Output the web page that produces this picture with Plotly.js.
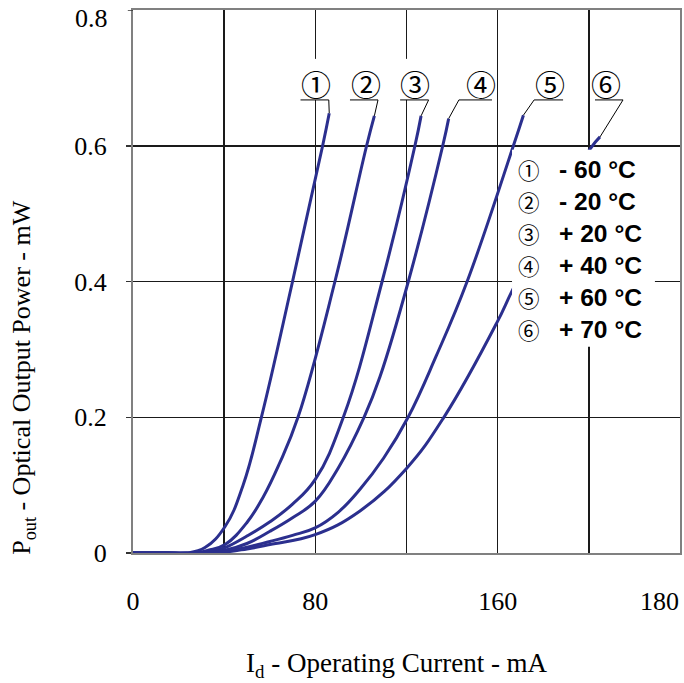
<!DOCTYPE html>
<html>
<head>
<meta charset="utf-8">
<script src="https://cdn.plot.ly/plotly-3.0.1.min.js"></script>
<style>html,body{margin:0;padding:0;background:#fff;}#chart{width:684px;height:683px;}</style>
</head>
<body>
<div id="chart"></div>
<script>
// ---- data ----
const seriesNames = ["-60 °C", "-20 °C", "+20 °C", "+40 °C", "+60 °C", "+70 °C"];
const legendMarks = ["①", "②", "③", "④", "⑤", "⑥"];
const legendTexts = ["- 60 °C", "- 20 °C", "+ 20 °C", "+ 40 °C", "+ 60 °C", "+ 70 °C"];

const i1 = [0, 15, 23.7, 31.6, 40.4, 48.3, 56.4, 70.0, 83.2, 86.1];
const p1 = [0, 0, 0, 0.008, 0.039, 0.100, 0.201, 0.400, 0.600, 0.648];

const i2 = [0, 15, 27, 33, 40.4, 50, 57.2, 64, 72.5, 88.6, 102.5, 105.9];
const p2 = [0, 0, 0, 0.004, 0.0125, 0.045, 0.083, 0.130, 0.201, 0.400, 0.600, 0.644];

const i3 = [0, 15, 29, 35, 40.4, 50, 60.1, 70, 79.9, 92.4, 109.3, 123.7, 126.4];
const p3 = [0, 0, 0, 0.003, 0.008, 0.025, 0.046, 0.072, 0.108, 0.201, 0.400, 0.600, 0.644];

const i4 = [0, 15, 31.6, 40.4, 50, 60.1, 70, 79.9, 90, 101.5, 108.4, 120.8, 135.9, 138.5];
const p4 = [0, 0, 0, 0.004, 0.014, 0.032, 0.052, 0.076, 0.125, 0.201, 0.260, 0.400, 0.600, 0.640];

const i5 = [0, 15, 33.8, 45, 60.1, 70, 79.9, 90, 99.6, 110, 120.7, 133, 146.6, 166.9, 171.3];
const p5 = [0, 0, 0, 0.005, 0.017, 0.026, 0.037, 0.060, 0.094, 0.140, 0.200, 0.290, 0.400, 0.600, 0.645];

const i6 = [0, 15, 36, 50, 60.1, 79.9, 99.6, 120.1, 136.6, 159.6, 166.6, 183, 200.5, 204.9];
const p6 = [0, 0, 0, 0.006, 0.0125, 0.027, 0.062, 0.125, 0.201, 0.339, 0.388, 0.494, 0.595, 0.613];

const xTickVals = [0, 80, 160, 231];
const xTickText = ["0", "80", "160", "180"];
const yTickVals = [0, 0.2, 0.4, 0.6];
const yTickText = ["0", "0.2", "0.4", "0.6"];
const yTopLabel = "0.8";

// ---- styling / placement ----
const curveColor = "#2b2f8e";
const serif = "Liberation Serif, Times New Roman, serif";
const circFont = "Noto Sans CJK JP, DejaVu Sans, sans-serif";

const xs = [i1, i2, i3, i4, i5, i6];
const ys = [p1, p2, p3, p4, p5, p6];

const traces = xs.map((x, k) => ({
  x: x, y: ys[k], type: "scatter", mode: "lines", name: seriesNames[k],
  line: {color: curveColor, width: 3, shape: "spline", smoothing: 1.2},
  hoverinfo: "skip"
}));

// label placement (data units) for the numbered callouts
const labelX = [80.3, 102.2, 123.7, 152.7, 183.0, 207.5];
const labelY = 0.692;
const underY = 0.6675;
const underSpan = [[73.5, 85.9], [95.2, 107.5], [117.2, 129.7], [143.0, 157.5], [176.0, 188.7], [202.7, 215.0]];
const underJoin = [1, 1, 1, 0, 0, 1];

const shapes = [];
// white legend panel
shapes.push({type: "rect", xref: "x", yref: "y", x0: 166.3, x1: 229, y0: 0.304, y1: 0.594,
  fillcolor: "#ffffff", line: {width: 0}, layer: "above"});
// white patches behind callout numbers
labelX.forEach(x => {
  shapes.push({type: "rect", xref: "x", yref: "y", x0: x - 5.2, x1: x + 5.2, y0: underY, y1: 0.728,
    fillcolor: "#ffffff", line: {width: 0}, layer: "above"});
});
underSpan.forEach((s, k) => {
  const xe = xs[k][xs[k].length - 1], ye = ys[k][ys[k].length - 1];
  const jx = s[underJoin[k]];
  shapes.push({type: "path", xref: "x", yref: "y", layer: "above",
    path: `M${s[0]},${underY} L${s[1]},${underY} M${jx},${underY} L${xe},${ye}`,
    line: {color: "#000", width: 1}});
});
// tick mark at the top of the y axis
shapes.push({type: "line", xref: "paper", yref: "y", x0: -0.0095, x1: 0, y0: 0.8, y1: 0.8,
  line: {color: "#333", width: 1.5}});

const annotations = [];
legendMarks.forEach((m, k) => {
  annotations.push({xref: "x", yref: "y", x: labelX[k], y: labelY, text: m, showarrow: false,
    font: {family: circFont, size: 30, color: "#000"},
    xanchor: "center", yanchor: "middle"});
});
// legend rows
const legRowY = [0.565, 0.518, 0.471, 0.424, 0.377, 0.330];
legendMarks.forEach((m, k) => {
  annotations.push({xref: "x", yref: "y", x: 173.8, y: legRowY[k], text: m, showarrow: false,
    font: {family: circFont, size: 21.5, color: "#000"}, xanchor: "center", yanchor: "middle"});
  annotations.push({xref: "x", yref: "y", x: 186, y: legRowY[k], text: "<b>" + legendTexts[k] + "</b>", showarrow: false,
    font: {family: "Liberation Sans, Arial, sans-serif", size: 24.6, color: "#000"}, xanchor: "left", yanchor: "middle"});
});
// top y tick label (sits a little below its grid line in the reference)
annotations.push({xref: "paper", yref: "y", x: -0.042, y: 0.788, text: yTopLabel, showarrow: false,
  font: {family: serif, size: 26, color: "#000"}, xanchor: "right", yanchor: "middle"});
// axis titles
annotations.push({xref: "paper", yref: "paper", x: 0.4826, y: -0.206, text: "I<sub>d</sub> - Operating Current - mA",
  showarrow: false, font: {family: serif, size: 27, color: "#000"}, xanchor: "center", yanchor: "middle"});
annotations.push({xref: "paper", yref: "paper", x: -0.2, y: 0.322, text: "P<sub>out</sub> - Optical Output Power - mW",
  showarrow: false, textangle: -90, font: {family: serif, size: 26, color: "#000"}, xanchor: "center", yanchor: "middle"});

const layout = {
  width: 684, height: 683,
  margin: {l: 133, r: 4, t: 10, b: 130},
  paper_bgcolor: "#fff", plot_bgcolor: "#fff",
  showlegend: false,
  xaxis: {
    range: [0, 240], tickmode: "array", tickvals: xTickVals, ticktext: xTickText,
    showgrid: false, zeroline: false, ticks: "", ticklabelstandoff: 24,
    showline: true, mirror: true, linecolor: "#808080", linewidth: 2,
    tickfont: {family: serif, size: 26, color: "#000"},
    minor: {dtick: 40, tick0: 0, showgrid: true, gridcolor: "#1a1a1a", gridwidth: 1.5, ticks: ""}
  },
  yaxis: {
    range: [0, 0.8], tickmode: "array", tickvals: yTickVals, ticktext: yTickText,
    showgrid: true, gridcolor: "#1a1a1a", gridwidth: 1.5, zeroline: false,
    ticks: "outside", ticklen: 5, tickcolor: "#333", tickwidth: 1.5, ticklabelstandoff: 14,
    showline: true, mirror: true, linecolor: "#808080", linewidth: 2,
    tickfont: {family: serif, size: 26, color: "#000"}
  },
  shapes: shapes,
  annotations: annotations
};

Plotly.newPlot("chart", traces, layout, {staticPlot: true, displayModeBar: false});
</script>
</body>
</html>
